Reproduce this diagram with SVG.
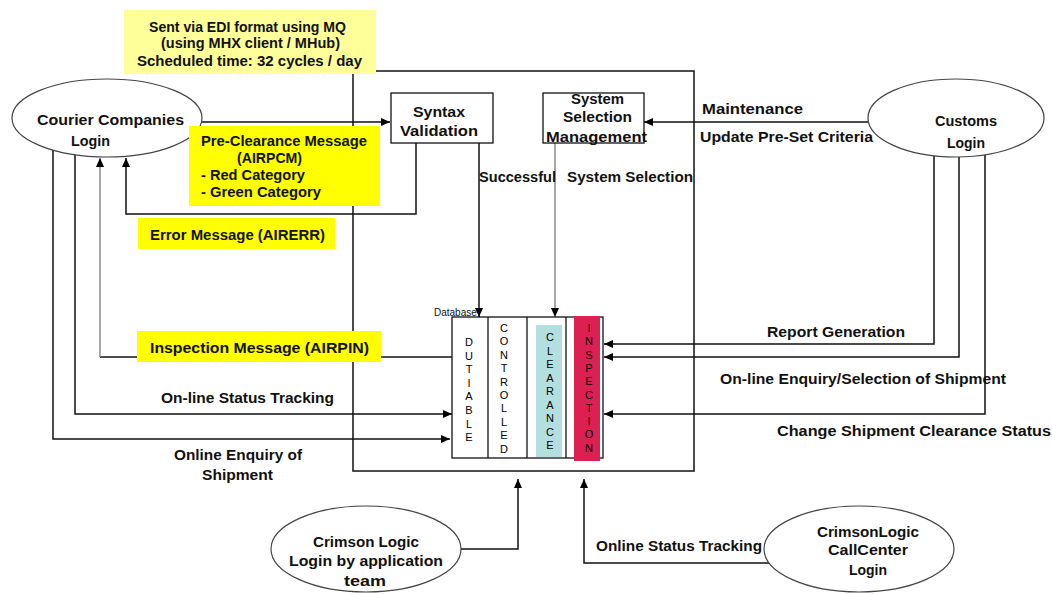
<svg xmlns="http://www.w3.org/2000/svg" width="1052" height="594" viewBox="0 0 1052 594">
<defs>
<marker id="arr" markerUnits="userSpaceOnUse" markerWidth="10" markerHeight="10" refX="9" refY="5" orient="auto">
<path d="M0,1 L9,5 L0,9 Z" fill="#000"/>
</marker>
<style>
text{font-family:"Liberation Sans",Arial,sans-serif;font-size:14px;font-weight:bold;fill:#111}
.c{text-anchor:middle}
.v{font-size:11px;font-weight:normal;text-anchor:middle;fill:#000}
.ln{fill:none;stroke:#111;stroke-width:1.5}
.gl{fill:none;stroke:#888;stroke-width:1.5}
.node{fill:#fff;stroke:#111;stroke-width:1.3}
.ell{fill:#fff;stroke:#444;stroke-width:1.2}
.ybox{fill:#ffff00}
.lybox{fill:#ffff99}
</style>
</defs>
<rect width="1052" height="594" fill="#fff"/>

<g id="system-boundary">
<rect x="353" y="71" width="341" height="400" fill="none" stroke="#111" stroke-width="1.5"/>
</g>

<g id="connectors">
<path class="ln" d="M202,122 H390" marker-end="url(#arr)"/>
<path class="ln" d="M416,143 V214 H126 V158" marker-end="url(#arr)"/>
<path class="ln" d="M455,357 H100"/>
<path class="gl" d="M100,357 V158" marker-end="url(#arr)"/>
<path class="ln" d="M75,155 V414 H452" marker-end="url(#arr)"/>
<path class="ln" d="M53,150 V439 H450" marker-end="url(#arr)"/>
<path class="ln" d="M479,143 V317" marker-end="url(#arr)"/>
<path class="gl" d="M555,143 V317" marker-end="url(#arr)"/>
<path class="ln" d="M868,122 H644" marker-end="url(#arr)"/>
<path class="ln" d="M934,156 V344 H604" marker-end="url(#arr)"/>
<path class="ln" d="M959,157 V357 H604" marker-end="url(#arr)"/>
<path class="ln" d="M985,155 V414 H604" marker-end="url(#arr)"/>
<path class="ln" d="M460,549 H518 V479" marker-end="url(#arr)"/>
<path class="ln" d="M769,563 H584 V479" marker-end="url(#arr)"/>
</g>

<g id="note-edi">
<rect class="lybox" x="124" y="10" width="252" height="64"/>
<text x="149" y="32" textLength="197" lengthAdjust="spacingAndGlyphs">Sent via EDI format using MQ</text>
<text x="161" y="48" textLength="179" lengthAdjust="spacingAndGlyphs">(using MHX client / MHub)</text>
<text x="137" y="66" textLength="225" lengthAdjust="spacingAndGlyphs">Scheduled time: 32 cycles / day</text>
</g>

<g id="courier">
<ellipse class="ell" cx="107" cy="118" rx="95" ry="39"/>
<text x="37" y="125" textLength="147" lengthAdjust="spacingAndGlyphs">Courier Companies</text>
<text x="71" y="146" textLength="39" lengthAdjust="spacingAndGlyphs">Login</text>
</g>

<g id="syntax-validation">
<rect class="node" x="391" y="93" width="102" height="50"/>
<text x="413" y="117" textLength="52" lengthAdjust="spacingAndGlyphs">Syntax</text>
<text x="400" y="136" textLength="78" lengthAdjust="spacingAndGlyphs">Validation</text>
</g>

<g id="system-selection-management">
<rect class="node" x="543" y="93" width="101" height="50"/>
<text x="571" y="104" textLength="53" lengthAdjust="spacingAndGlyphs">System</text>
<text x="563" y="122" textLength="69" lengthAdjust="spacingAndGlyphs">Selection</text>
<text x="546" y="142" textLength="101" lengthAdjust="spacingAndGlyphs">Management</text>
</g>

<g id="customs">
<ellipse class="ell" cx="956" cy="118" rx="88" ry="39"/>
<text x="935" y="126" textLength="62" lengthAdjust="spacingAndGlyphs">Customs</text>
<text x="947" y="148" textLength="38" lengthAdjust="spacingAndGlyphs">Login</text>
</g>

<g id="note-preclearance">
<rect class="ybox" x="189" y="126" width="191" height="80"/>
<text x="201" y="146" textLength="166" lengthAdjust="spacingAndGlyphs">Pre-Clearance Message</text>
<text x="237" y="163" textLength="65" lengthAdjust="spacingAndGlyphs">(AIRPCM)</text>
<text x="201" y="180" textLength="104" lengthAdjust="spacingAndGlyphs">- Red Category</text>
<text x="201" y="197" textLength="120" lengthAdjust="spacingAndGlyphs">- Green Category</text>
</g>

<g id="note-error">
<rect class="ybox" x="138" y="218" width="197" height="31"/>
<text x="150" y="240" textLength="175" lengthAdjust="spacingAndGlyphs">Error Message (AIRERR)</text>
</g>

<g id="note-inspection">
<rect class="ybox" x="137" y="331" width="244" height="31"/>
<text x="150" y="353" textLength="219" lengthAdjust="spacingAndGlyphs">Inspection Message (AIRPIN)</text>
</g>

<g id="labels">
<text x="161" y="403" textLength="173" lengthAdjust="spacingAndGlyphs">On-line Status Tracking</text>
<text x="174" y="460" textLength="128" lengthAdjust="spacingAndGlyphs">Online Enquiry of</text>
<text x="202" y="480" textLength="71" lengthAdjust="spacingAndGlyphs">Shipment</text>
<text x="479" y="182" textLength="77" lengthAdjust="spacingAndGlyphs">Successful</text>
<text x="567" y="182" textLength="126" lengthAdjust="spacingAndGlyphs">System Selection</text>
<text x="702" y="114" textLength="101" lengthAdjust="spacingAndGlyphs">Maintenance</text>
<text x="700" y="142" textLength="173" lengthAdjust="spacingAndGlyphs">Update Pre-Set Criteria</text>
<text x="767" y="337" textLength="138" lengthAdjust="spacingAndGlyphs">Report Generation</text>
<text x="720" y="384" textLength="286" lengthAdjust="spacingAndGlyphs">On-line Enquiry/Selection of Shipment</text>
<text x="777" y="436" textLength="274" lengthAdjust="spacingAndGlyphs">Change Shipment Clearance Status</text>
<text x="596" y="551" textLength="166" lengthAdjust="spacingAndGlyphs">Online Status Tracking</text>
</g>

<g id="database">
<rect x="452" y="317" width="151" height="141" fill="#fff" stroke="#111" stroke-width="1.3"/>
<line x1="488" y1="317" x2="488" y2="458" stroke="#111" stroke-width="1.3"/>
<line x1="527" y1="317" x2="527" y2="458" stroke="#111" stroke-width="1.3"/>
<line x1="566" y1="317" x2="566" y2="458" stroke="#111" stroke-width="1.3"/>
<rect x="536" y="325" width="26" height="132" fill="#b4dfe1"/>
<rect x="574" y="316" width="26" height="145" fill="#dc2052"/>
<text x="434" y="316" style="font-size:10px;font-weight:normal">Database</text>
<text class="v"><tspan x="469" y="346">D</tspan><tspan x="469" dy="13.6">U</tspan><tspan x="469" dy="13.6">T</tspan><tspan x="469" dy="13.6">I</tspan><tspan x="469" dy="13.6">A</tspan><tspan x="469" dy="13.6">B</tspan><tspan x="469" dy="13.6">L</tspan><tspan x="469" dy="13.6">E</tspan></text>
<text class="v"><tspan x="504" y="332">C</tspan><tspan x="504" dy="13.4">O</tspan><tspan x="504" dy="13.4">N</tspan><tspan x="504" dy="13.4">T</tspan><tspan x="504" dy="13.4">R</tspan><tspan x="504" dy="13.4">O</tspan><tspan x="504" dy="13.4">L</tspan><tspan x="504" dy="13.4">L</tspan><tspan x="504" dy="13.4">E</tspan><tspan x="504" dy="13.4">D</tspan></text>
<text class="v"><tspan x="550" y="341">C</tspan><tspan x="550" dy="13.5">L</tspan><tspan x="550" dy="13.5">E</tspan><tspan x="550" dy="13.5">A</tspan><tspan x="550" dy="13.5">R</tspan><tspan x="550" dy="13.5">A</tspan><tspan x="550" dy="13.5">N</tspan><tspan x="550" dy="13.5">C</tspan><tspan x="550" dy="13.5">E</tspan></text>
<text class="v"><tspan x="589" y="332">I</tspan><tspan x="589" dy="13.3">N</tspan><tspan x="589" dy="13.3">S</tspan><tspan x="589" dy="13.3">P</tspan><tspan x="589" dy="13.3">E</tspan><tspan x="589" dy="13.3">C</tspan><tspan x="589" dy="13.3">T</tspan><tspan x="589" dy="13.3">I</tspan><tspan x="589" dy="13.3">O</tspan><tspan x="589" dy="13.3">N</tspan></text>
</g>

<g id="crimson-app-team">
<ellipse class="ell" cx="366" cy="549" rx="95" ry="43"/>
<text x="313" y="547" textLength="106" lengthAdjust="spacingAndGlyphs">Crimson Logic</text>
<text x="289" y="566" textLength="154" lengthAdjust="spacingAndGlyphs">Login by application</text>
<text x="344" y="586" textLength="42" lengthAdjust="spacingAndGlyphs">team</text>
</g>

<g id="crimson-callcenter">
<ellipse class="ell" cx="859" cy="549" rx="95" ry="43"/>
<text x="817" y="537" textLength="102" lengthAdjust="spacingAndGlyphs">CrimsonLogic</text>
<text x="828" y="555" textLength="80" lengthAdjust="spacingAndGlyphs">CallCenter</text>
<text x="849" y="575" textLength="38" lengthAdjust="spacingAndGlyphs">Login</text>
</g>
</svg>
